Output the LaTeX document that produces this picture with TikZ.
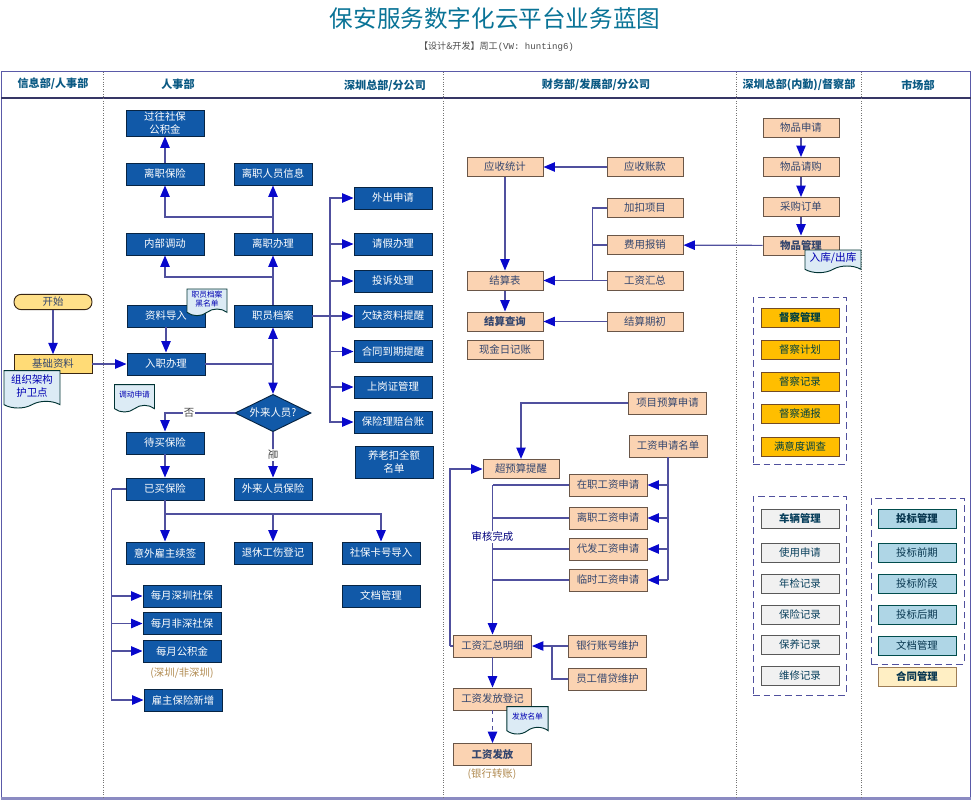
\documentclass[tikz,border=0pt]{standalone}
\usepackage{fontspec}
\setmainfont{Noto Sans CJK SC}
\newfontfamily\latinmono{Liberation Mono}
\usepackage{xcolor}
\usetikzlibrary{arrows.meta,shapes.geometric,shapes.symbols}
\definecolor{flowline}{HTML}{50509E}
\definecolor{tipblue}{HTML}{0808CC}
\definecolor{laneline}{HTML}{5A5AA8}
\definecolor{headtext}{HTML}{0B5A84}
\definecolor{boxblue}{HTML}{1159A8}
\definecolor{boxpeach}{HTML}{FBD3B2}
\definecolor{boxgold}{HTML}{FFBE00}
\definecolor{boxgrey}{HTML}{F1F1F1}
\definecolor{boxsky}{HTML}{AFD6E6}
\definecolor{boxcream}{HTML}{FFEFC4}
\definecolor{docblue}{HTML}{DCEBF5}
\definecolor{notebrown}{HTML}{B08A50}
\definecolor{peachedge}{HTML}{6A5648}
\definecolor{peachtext}{HTML}{34466E}
\newcommand{\boxfont}{\fontsize{7.8pt}{10pt}\selectfont}
\tikzset{
  flow/.style={-{Triangle[length=8.5pt,width=7pt,color=tipblue]},color=flowline,line width=0.9pt},
  trunk/.style={color=flowline,line width=0.9pt},
  basebox/.style={rectangle,minimum width=58.5pt,minimum height=16.5pt,inner sep=0pt,align=center,font=\boxfont,line width=0.7pt},
  bluebox/.style={basebox,fill=boxblue,draw=black!60!boxblue,text=white},
  peachbox/.style={basebox,minimum width=57pt,minimum height=14.3pt,fill=boxpeach,draw=peachedge,text=peachtext},
  wagebox/.style={peachbox,minimum width=58.5pt,minimum height=16.5pt},
  goldbox/.style={basebox,minimum height=14.3pt,fill=boxgold,draw=black!40!brown,text=black!50!teal},
  greybox/.style={basebox,minimum height=14.3pt,fill=boxgrey,draw=black!65,text=black!30!headtext},
  skybox/.style={basebox,minimum height=14.3pt,fill=boxsky,draw=black!40!teal,text=black!40!headtext},
  docnote/.style={tape,tape bend top=none,tape bend height=5pt,inner sep=0pt,align=center,fill=docblue,draw=black!60!teal,line width=0.7pt,text=black!30!blue},
  lanetext/.style={font=\fontsize{8.3pt}{10pt}\selectfont\bfseries,text=headtext},
  dashbox/.style={draw=flowline,dashed,dash pattern=on 5pt off 3pt,line width=0.7pt},
  lane/.style={draw=black!55,densely dotted,line width=0.8pt},
  note/.style={font=\boxfont,text=notebrown}
}
\begin{document}
\begin{tikzpicture}[x=0.75pt,y=-0.75pt]
\useasboundingbox (0,0) rectangle (973,800);
% title
\node (title) [text=headtext!85!cyan,font=\fontsize{17.7pt}{20pt}\selectfont] at (495,18) {保安服务数字化云平台业务蓝图};
\node (subtitle) [text=black!70,font=\fontsize{6.8pt}{8pt}\selectfont] at (496.5,47) {【设计\&开发】周工{\latinmono (VW: hunting6)}};
% lanes
\node (frame) [rectangle,draw=laneline,line width=0.9pt,minimum width=726.9pt,minimum height=544.9pt,inner sep=0pt] at (486.1,434.75) {};
\coordinate (headl) at (frame.west |- 0,98);
\coordinate (headr) at (frame.east |- 0,98);
\path[draw=black!40!laneline,line width=1pt] (headl) -- (headr);
\path[draw=laneline!70,line width=2pt] (frame.south west) -- (frame.south east);
\path[lane] (103.5,72) -- (103.5,798);
\path[lane] (443.5,72) -- (443.5,798);
\path[lane] (736.5,72) -- (736.5,798);
\path[lane] (861.5,72) -- (861.5,798);
\node (laneinfo) [lanetext] at (53,84) {信息部/人事部};
\node (lanehr) [lanetext] at (178,84) {人事部};
\node (lanesz) [lanetext] at (385,85.5) {深圳总部/分公司};
\node (lanefin) [lanetext] at (596,85) {财务部/发展部/分公司};
\node (laneins) [lanetext] at (799,85) {深圳总部(内勤)/督察部};
\node (lanemkt) [lanetext] at (918,85) {市场部};
% start column
\node (start) [basebox,minimum height=11.5pt,rounded corners=5.5pt,fill=boxcream!70!boxgold,draw=black!70!brown,text=peachtext] at (53,302) {开始};
\node (basic) [basebox,minimum height=14pt,fill=boxcream!60!boxgold,draw=black!70!brown,text=peachtext] at (53,364) {基础资料};
% hr column
\node (pastss) [bluebox,minimum height=19.5pt] at (165,123) {过往社保\\公积金};
\node (quitins) [bluebox] at (165,174) {离职保险};
\node (quitinfo) [bluebox] at (273,174) {离职人员信息};
\node (transfer) [bluebox] at (165,244) {内部调动};
\node (quitdo) [bluebox] at (273,244) {离职办理};
\node (import) [bluebox] at (166,316) {资料导入};
\node (archive) [bluebox] at (273,316) {职员档案};
\node (entry) [bluebox] at (166,364) {入职办理};
\node (outside) [diamond,aspect=2,fill=boxblue,draw=black!60!boxblue,line width=0.7pt,text=white,font=\boxfont,minimum width=57pt,minimum height=28pt,inner sep=0pt] at (273,413) {外来人员?};
\node (waitins) [bluebox] at (165,443) {待买保险};
\node (boughtins) [bluebox] at (165,489) {已买保险};
\node (outsideins) [bluebox] at (273,489) {外来人员保险};
\node (accident) [bluebox] at (165,553) {意外雇主续签};
\node (retire) [bluebox] at (273,553) {退休工伤登记};
\node (sscard) [bluebox] at (381,553) {社保卡号导入};
\node (monthsz) [bluebox] at (182,596) {每月深圳社保};
\node (monthns) [bluebox] at (182,623.5) {每月非深社保};
\node (monthfund) [bluebox] at (182,651) {每月公积金};
\node (fundnote) [note] at (182,673) {(深圳/非深圳)};
\node (employer) [bluebox] at (183,700) {雇主保险新增};
\node (docman) [bluebox] at (381,596) {文档管理};
% branch office column
\node (goout) [bluebox] at (393,198) {外出申请};
\node (leave) [bluebox] at (393,244) {请假办理};
\node (complain) [bluebox] at (393,281) {投诉处理};
\node (lackdoc) [bluebox] at (393,316) {欠缺资料提醒};
\node (contract) [bluebox] at (393,351.5) {合同到期提醒};
\node (license) [bluebox] at (393,387) {上岗证管理};
\node (claims) [bluebox] at (393,422) {保险理赔台账};
\node (pension) [bluebox,minimum height=24pt] at (394,462) {养老扣全额\\名单};
% finance column
\node (recvstat) [peachbox] at (505,167) {应收统计};
\node (recvacc) [peachbox] at (645,167) {应收账款};
\node (addsub) [peachbox] at (645,208) {加扣项目};
\node (expense) [peachbox] at (645,245) {费用报销};
\node (wagesum) [peachbox] at (645,280.5) {工资汇总};
\node (settle) [peachbox] at (505,280.5) {结算表};
\node (settleq) [peachbox,font=\boxfont\bfseries] at (505,321.5) {结算查询};
\node (settle0) [peachbox] at (645,321.5) {结算期初};
\node (cashbook) [peachbox] at (505,349.5) {现金日记账};
\node (budget) [wagebox] at (667.5,403) {项目预算申请};
\node (wagelist) [wagebox] at (668,446) {工资申请名单};
\node (overbudget) [peachbox,minimum height=14.5pt] at (521,469) {超预算提醒};
\node (wageon) [wagebox] at (608,485) {在职工资申请};
\node (wageoff) [wagebox] at (608,518) {离职工资申请};
\node (wageproxy) [wagebox] at (608,549) {代发工资申请};
\node (wagetemp) [wagebox] at (608,580) {临时工资申请};
\node (wagedetail) [wagebox] at (492.5,646) {工资汇总明细};
\node (bankacc) [wagebox] at (607.5,646) {银行账号维护};
\node (loan) [wagebox] at (607.5,679) {员工借贷维护};
\node (payreg) [wagebox] at (492.5,699) {工资发放登记};
\node (pay) [wagebox,font=\boxfont\bfseries] at (492.5,754.5) {工资发放};
\node (paynote) [note] at (492,774) {(银行转账)};
% inspection column
\node (goodsreq) [peachbox] at (801,127.5) {物品申请};
\node (goodsbuy) [peachbox] at (801,167) {物品请购};
\node (goodsorder) [peachbox] at (801,207) {采购订单};
\node (goodsman) [peachbox,font=\boxfont\bfseries] at (801,245.5) {物品管理};
\node (inspgroup) [dashbox,rectangle,minimum width=69.75pt,minimum height=125.25pt,inner sep=0pt] at (799.5,380.5) {};
\node (inspman) [goldbox,font=\boxfont\bfseries] at (800,317.5) {督察管理};
\node (inspplan) [goldbox] at (800,349.5) {督察计划};
\node (insprec) [goldbox] at (800,381.5) {督察记录};
\node (inspnote) [goldbox] at (800,414) {督察通报};
\node (satisfy) [goldbox] at (800,446.5) {满意度调查};
\node (cargroup) [dashbox,rectangle,minimum width=69.75pt,minimum height=149.25pt,inner sep=0pt] at (799.5,595.5) {};
\node (carman) [greybox,font=\boxfont\bfseries] at (800,518.5) {车辆管理};
\node (caruse) [greybox] at (800,552.5) {使用申请};
\node (carcheck) [greybox] at (800,583.5) {年检记录};
\node (carins) [greybox] at (800,614.5) {保险记录};
\node (carkeep) [greybox] at (800,644.5) {保养记录};
\node (carfix) [greybox] at (800,675.5) {维修记录};
% market column
\node (bidgroup) [dashbox,rectangle,minimum width=69.75pt,minimum height=124.5pt,inner sep=0pt] at (917.5,581) {};
\node (bidman) [skybox,font=\boxfont\bfseries] at (917,518.5) {投标管理};
\node (bidpre) [skybox] at (917,553) {投标前期};
\node (bidstage) [skybox] at (917,584) {投标阶段};
\node (bidpost) [skybox] at (917,615) {投标后期};
\node (biddoc) [skybox] at (917,645.5) {文档管理};
\node (contractman) [skybox,fill=boxcream,draw=black!40!brown!70!boxcream,font=\boxfont\bfseries] at (917,676.5) {合同管理};
%
\path[flow](start) edge (basic);
\path[flow](basic) edge (entry);
\path[flow](import) edge (entry);
\path[flow](quitins) edge (pastss);
\path[flow](quitdo) edge (quitinfo);
\path[flow](archive) edge (quitdo);
\coordinate (quitsplit) at (273,217);
\draw[flow] (quitsplit) -| (quitins);
\coordinate (transplit) at (273,277);
\draw[flow] (transplit) -| (transfer);
\coordinate (entryjoin) at (273,364);
\path[trunk](entry) edge (entryjoin);
\path[flow](entryjoin) edge (archive);
\path[flow](entryjoin) edge (outside);
% right fan
\coordinate (fanmid) at (330,316);
\path[flow](archive) edge (lackdoc);
\draw[flow] (fanmid) |- (goout);
\draw[flow] (fanmid) |- (leave);
\draw[flow] (fanmid) |- (complain);
\draw[flow] (fanmid) |- (contract);
\draw[flow] (fanmid) |- (license);
\draw[flow] (fanmid) |- (claims);
\draw[flow] (outside) -| (waitins);
\path[flow](outside) edge (outsideins);
\node (nolabel) [fill=white,inner sep=0.5pt,text=black!70,font=\boxfont] at (189,413) {否};
\node (yeslabel) [fill=white,inner sep=0.5pt,text=black!70,font=\boxfont,rotate=-90] at (273,455) {是};
\path[flow](waitins) edge (boughtins);
\path[flow](boughtins) edge (accident);
\coordinate (boughtsplit) at (165,514);
\draw[flow] (boughtsplit) -| (retire);
\draw[flow] (boughtsplit) -| (sscard);
\coordinate (boughtcorner) at (111.5,489);
\path[trunk](boughtins) edge (boughtcorner);
\draw[flow] (boughtcorner) |- (monthsz);
\draw[flow] (boughtcorner) |- (monthns);
\draw[flow] (boughtcorner) |- (monthfund);
\draw[flow] (boughtcorner) |- (employer);
% finance links
\path[flow](recvacc) edge (recvstat);
\path[flow](recvstat) edge (settle);
\path[flow](settle) edge (settleq);
\path[flow](settle0) edge (settleq);
\path[flow](wagesum) edge (settle);
\coordinate (sumtrunk) at (592.5,280.5);
\draw[trunk] (addsub) -| (sumtrunk);
\coordinate (exptrunk) at (592.5,245);
\path[trunk](expense) edge (exptrunk);
\path[flow](goodsman) edge (expense);
\path[flow](goodsreq) edge (goodsbuy);
\path[flow](goodsbuy) edge (goodsorder);
\path[flow](goodsorder) edge (goodsman);
\draw[flow] (budget) -| (overbudget);
\coordinate (listfoot) at (668,580);
\path[trunk](wagelist) edge (listfoot);
\path[flow](listfoot) edge (wagetemp);
\coordinate (liston) at (668,485);
\coordinate (listoff) at (668,518);
\coordinate (listproxy) at (668,549);
\path[flow](liston) edge (wageon);
\path[flow](listoff) edge (wageoff);
\path[flow](listproxy) edge (wageproxy);
\coordinate (revtop) at (492.5,485);
\coordinate (revoff) at (492.5,518);
\coordinate (revproxy) at (492.5,549);
\coordinate (revtemp) at (492.5,580);
\path[trunk](wageon) edge (revtop);
\path[trunk](wageoff) edge (revoff);
\path[trunk](wageproxy) edge (revproxy);
\path[trunk](wagetemp) edge (revtemp);
\path[flow](revtop) edge (wagedetail);
\node (reviewed) [fill=white,inner sep=0.5pt,text=black!30!blue!70!black,font=\boxfont] at (492.5,537) {审核完成};
\coordinate (backcorner) at (450,646);
\path[trunk](wagedetail) edge (backcorner);
\draw[flow] (backcorner) |- (overbudget);
\path[flow](bankacc) edge (wagedetail);
\coordinate (loanjoin) at (552,646);
\draw[trunk] (loan) -| (loanjoin);
\path[flow](wagedetail) edge (payreg);
\path[flow,dashed](payreg) edge (pay);
% paper notes on top
\node (orgdoc) [docnote,minimum width=42pt,minimum height=28pt,font=\boxfont] at (32,386) {组织架构\\护卫点};
\node (blackdoc) [docnote,minimum width=30pt,minimum height=20pt,font=\fontsize{5.8pt}{7pt}\selectfont] at (207,299) {职员档案\\黑名单};
\node (movedoc) [docnote,minimum width=30pt,minimum height=20.5pt,font=\fontsize{5.8pt}{7pt}\selectfont] at (134.5,395) {调动申请};
\node (stockdoc) [docnote,minimum width=42pt,minimum height=17pt,font=\fontsize{8pt}{9pt}\selectfont] at (833,258) {入库/出库};
\node (paydoc) [docnote,minimum width=31pt,minimum height=20.5pt,font=\fontsize{5.8pt}{7pt}\selectfont] at (527.5,717) {发放名单};
\end{tikzpicture}
\end{document}
